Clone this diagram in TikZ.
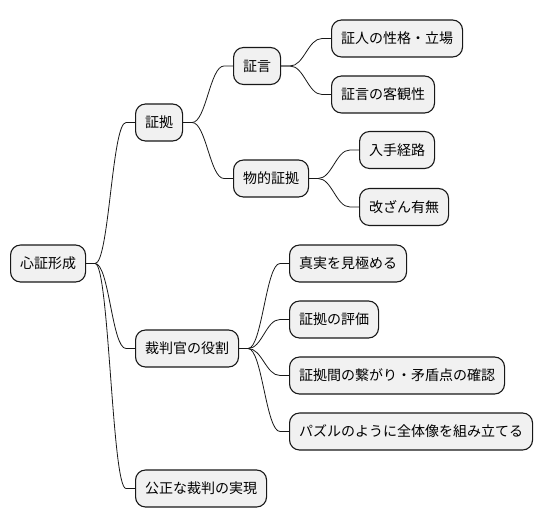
\documentclass[tikz,border=0pt]{standalone}
\usepackage{fontspec}
\usepackage{tikz}
\usetikzlibrary{positioning}
\newfontfamily\jpfont{Noto Sans CJK JP}
\definecolor{nodefill}{HTML}{F1F1F1}
\definecolor{linecol}{HTML}{181818}

\begin{document}
\begin{tikzpicture}[x=1pt, y=-1pt,
  topic/.style={rectangle, draw=linecol, fill=nodefill, line width=1.1pt,
                rounded corners=10pt, anchor=west, inner xsep=9.5pt, inner ysep=0pt,
                minimum height=37pt, font=\jpfont\fontsize{14}{16}\selectfont},
  link/.style={draw=linecol, line width=0.8pt}
]
\useasboundingbox (0,0) rectangle (544,527);

% root and first level
\node[topic] (root) at (10, 263.5) {心証形成};
\node[topic] (shoko) at (135, 122.5) {証拠};
\node[topic] (role)  at (135, 348.5) {裁判官の役割};
\node[topic] (fair)  at (135, 488.5) {公正な裁判の実現};

% evidence branch
\node[topic] (shogen)  at (233, 66)    {証言};
\node[topic] (butsu)   at (233, 178.5) {物的証拠};
\node[topic] (seikaku) at (331, 38.5)  {証人の性格・立場};
\node[topic] (kyakkan) at (331, 94.5)  {証言の客観性};
\node[topic] (keiro)   at (359, 150)   {入手経路};
\node[topic] (kaizan)  at (359, 207)   {改ざん有無};

% judge branch
\node[topic] (shinjitsu) at (289, 263.5) {真実を見極める};
\node[topic] (hyoka)     at (289, 319.5) {証拠の評価};
\node[topic] (tsunagari) at (289, 375.5) {証拠間の繋がり・矛盾点の確認};
\node[topic] (puzzle)    at (289, 431.5) {パズルのように全体像を組み立てる};

\draw[link] (root.east) -- ++(9,0) .. controls +(14,0) and +(-14,0) .. ([xshift=-9]shoko.west) -- (shoko.west);
\draw[link] (root.east) -- ++(9,0) .. controls +(14,0) and +(-14,0) .. ([xshift=-9]role.west) -- (role.west);
\draw[link] (root.east) -- ++(9,0) .. controls +(14,0) and +(-14,0) .. ([xshift=-9]fair.west) -- (fair.west);

\draw[link] (shoko.east) -- ++(9,0) .. controls +(14,0) and +(-14,0) .. ([xshift=-9]shogen.west) -- (shogen.west);
\draw[link] (shoko.east) -- ++(9,0) .. controls +(14,0) and +(-14,0) .. ([xshift=-9]butsu.west) -- (butsu.west);

\draw[link] (shogen.east) -- ++(9,0) .. controls +(14,0) and +(-14,0) .. ([xshift=-9]seikaku.west) -- (seikaku.west);
\draw[link] (shogen.east) -- ++(9,0) .. controls +(14,0) and +(-14,0) .. ([xshift=-9]kyakkan.west) -- (kyakkan.west);
\draw[link] (butsu.east) -- ++(9,0) .. controls +(14,0) and +(-14,0) .. ([xshift=-9]keiro.west) -- (keiro.west);
\draw[link] (butsu.east) -- ++(9,0) .. controls +(14,0) and +(-14,0) .. ([xshift=-9]kaizan.west) -- (kaizan.west);

\draw[link] (role.east) -- ++(9,0) .. controls +(14,0) and +(-14,0) .. ([xshift=-9]shinjitsu.west) -- (shinjitsu.west);
\draw[link] (role.east) -- ++(9,0) .. controls +(14,0) and +(-14,0) .. ([xshift=-9]hyoka.west) -- (hyoka.west);
\draw[link] (role.east) -- ++(9,0) .. controls +(14,0) and +(-14,0) .. ([xshift=-9]tsunagari.west) -- (tsunagari.west);
\draw[link] (role.east) -- ++(9,0) .. controls +(14,0) and +(-14,0) .. ([xshift=-9]puzzle.west) -- (puzzle.west);

\end{tikzpicture}
\end{document}
